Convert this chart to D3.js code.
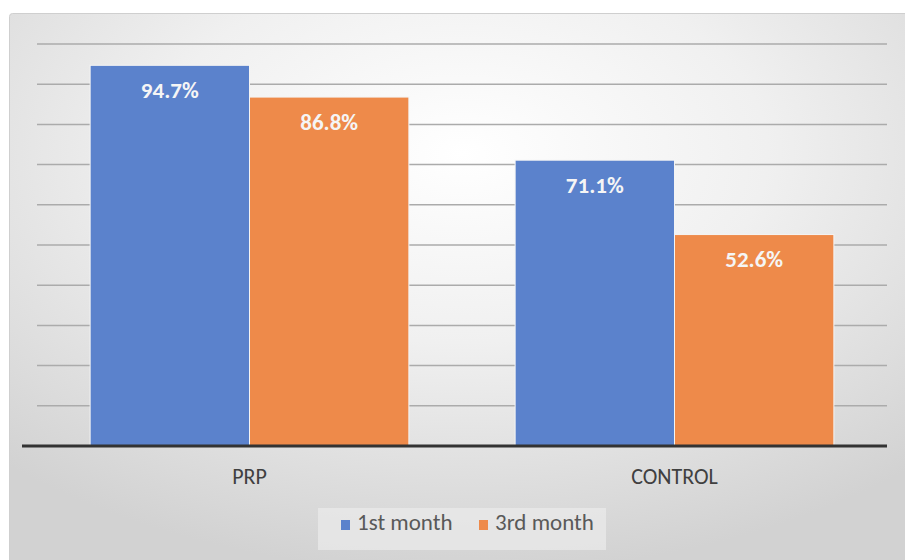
<!DOCTYPE html>
<html>
<head>
<meta charset="utf-8">
<script src="https://cdn.jsdelivr.net/npm/d3@7"></script>
<style>
  html, body { margin: 0; padding: 0; background: #fff; }
  svg { display: block; }
</style>
</head>
<body>
<svg id="chart"></svg>
<script>
const width = 905;
const height = 560;

// data
const categories = ['PRP', 'CONTROL'];
const seriesNames = ['1st month', '3rd month'];
const month1 = [94.7, 71.1];
const month3 = [86.8, 52.6];
const yTicks = [0, 10, 20, 30, 40, 50, 60, 70, 80, 90, 100];

const colors = ['#5b82cc', '#ee8a4a'];
const font = "Carlito, 'Liberation Sans Narrow', 'Open Sans', sans-serif";

const svg = d3.select('#chart')
  .attr('width', width)
  .attr('height', height);

// background gradient of the chart area
const defs = svg.append('defs');
const grad = defs.append('radialGradient')
  .attr('id', 'bg')
  .attr('cx', '50%').attr('cy', '25%').attr('r', '75%');
grad.append('stop').attr('offset', '0%').attr('stop-color', '#ffffff');
grad.append('stop').attr('offset', '45%').attr('stop-color', '#f0f0f0');
grad.append('stop').attr('offset', '100%').attr('stop-color', '#d2d2d2');

svg.append('rect')
  .attr('x', 9.5).attr('y', 13.5)
  .attr('width', width).attr('height', height)
  .attr('rx', 3)
  .attr('fill', 'url(#bg)')
  .attr('stroke', '#cfcfcf');

const plot = { left: 37, right: 887, top: 44, bottom: 446 };

const x0 = d3.scaleBand()
  .domain(categories)
  .range([plot.left, plot.right])
  .paddingInner(0.25)
  .paddingOuter(0.125);

const x1 = d3.scaleBand()
  .domain(seriesNames)
  .range([0, x0.bandwidth()]);

const y = d3.scaleLinear()
  .domain([0, 100])
  .range([plot.bottom, plot.top]);

// gridlines
svg.append('g')
  .selectAll('line')
  .data(yTicks.slice(1))
  .enter()
  .append('line')
  .attr('x1', plot.left)
  .attr('x2', plot.right)
  .attr('y1', d => y(d))
  .attr('y2', d => y(d))
  .attr('stroke', '#ababab')
  .attr('stroke-width', 1.5);

// bars
const rows = categories.map((c, i) => ({ cat: c, vals: [month1[i], month3[i]] }));
const group = svg.append('g')
  .selectAll('g')
  .data(rows)
  .enter()
  .append('g')
  .attr('transform', d => `translate(${x0(d.cat)}, 0)`);

group.selectAll('rect')
  .data(d => d.vals.map((v, j) => ({ name: seriesNames[j], v: v, j: j })))
  .enter()
  .append('rect')
  .attr('x', d => x1(d.name))
  .attr('y', d => y(d.v))
  .attr('width', x1.bandwidth())
  .attr('height', d => y(0) - y(d.v))
  .attr('fill', d => colors[d.j])
  .attr('stroke', '#f4f4f4')
  .attr('stroke-width', 1);

// value labels
group.selectAll('text')
  .data(d => d.vals.map((v, j) => ({ name: seriesNames[j], v: v, j: j })))
  .enter()
  .append('text')
  .attr('x', d => x1(d.name) + x1.bandwidth() / 2)
  .attr('y', d => y(d.v) + 27)
  .attr('text-anchor', 'middle')
  .attr('dominant-baseline', 'middle')
  .attr('font-family', font)
  .attr('font-weight', 'bold')
  .attr('font-size', 23)
  .attr('fill', '#f5f5f5')
  .text(d => d.v.toFixed(1) + '%');

// x axis baseline
svg.append('line')
  .attr('x1', plot.left - 15)
  .attr('x2', plot.right)
  .attr('y1', y(0))
  .attr('y2', y(0))
  .attr('stroke', '#333333')
  .attr('stroke-width', 3);

// category labels
const xAxis = d3.axisBottom(x0).tickSize(0).tickPadding(22);
const xg = svg.append('g')
  .attr('transform', `translate(0, ${y(0)})`)
  .call(xAxis);
xg.select('.domain').remove();
xg.selectAll('text')
  .attr('font-family', font)
  .attr('font-size', 22)
  .attr('fill', '#404040');

// legend
const legend = svg.append('g');
legend.append('rect')
  .attr('x', 318).attr('y', 508)
  .attr('width', 288).attr('height', 42)
  .attr('fill', '#ebebeb')
  .attr('opacity', 0.7);

const legendX = [341, 479];
seriesNames.forEach((name, i) => {
  legend.append('rect')
    .attr('x', legendX[i]).attr('y', 520)
    .attr('width', 9).attr('height', 10)
    .attr('fill', colors[i]);
  legend.append('text')
    .attr('x', legendX[i] + 16)
    .attr('y', 525)
    .attr('dominant-baseline', 'middle')
    .attr('font-family', font)
    .attr('font-size', 23)
    .attr('fill', '#595959')
    .text(name);
});
</script>
</body>
</html>
